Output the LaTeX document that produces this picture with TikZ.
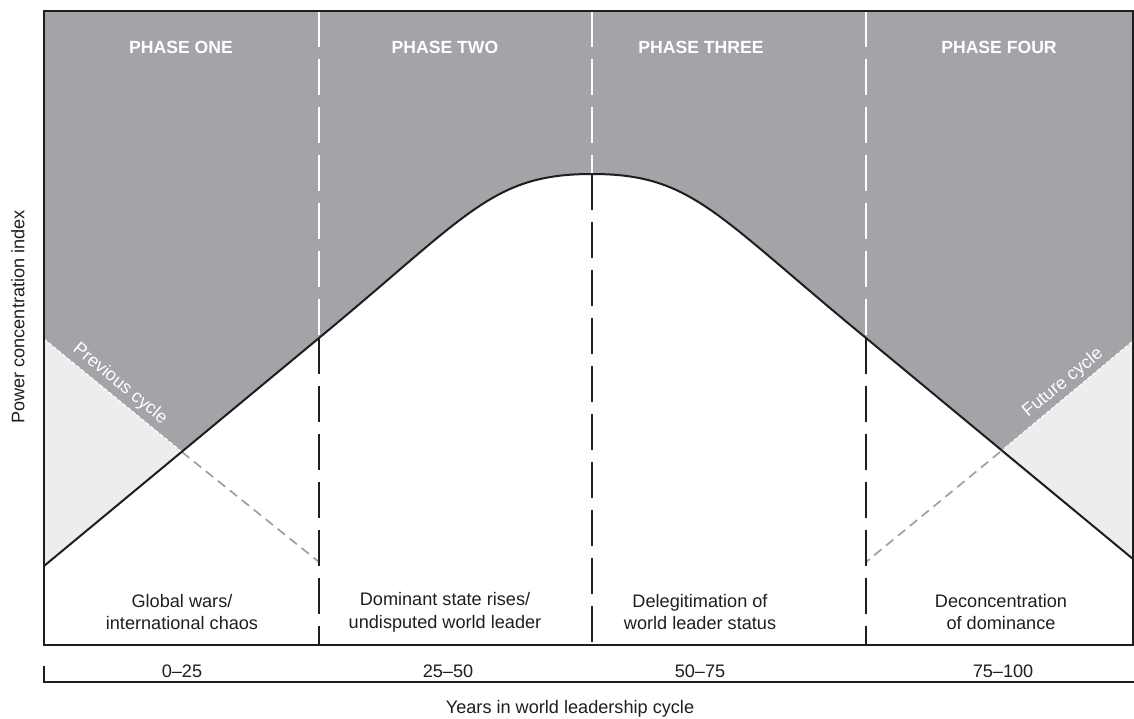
\documentclass[tikz,border=0pt]{standalone}
\usepackage{fontspec}
\setmainfont{Liberation Sans}
\definecolor{panelgray}{RGB}{163,164,168}
\definecolor{pale}{RGB}{237,237,237}
\definecolor{ghostgray}{RGB}{160,160,162}
\definecolor{ink}{RGB}{30,30,30}
\begin{document}
\begin{tikzpicture}[x=0.75pt,y=-0.75pt,
  every node/.style={inner sep=0pt, align=center, text=ink,
    font=\fontsize{13.6}{17.2}\selectfont},
  phase/.style={text=white, font=\bfseries\fontsize{13.2}{15}\selectfont},
  cyclelabel/.style={text=white, font=\fontsize{13.5}{15}\selectfont},
  curveline/.style={line width=1.5pt, ink},
  frameline/.style={line width=1.6pt, ink},
  whitedash/.style={white, line width=1.5pt, dash pattern=on 27pt off 9pt},
  blackdash/.style={ink, line width=1.5pt, dash pattern=on 27pt off 9pt},
  ghost/.style={ghostgray, line width=1.3pt, dash pattern=on 7pt off 4.5pt},
  cycleedge/.style={white, line width=0.8pt, dash pattern=on 3pt off 1.5pt},
]
\useasboundingbox (0,0) rectangle (1134,718);

% frame corners
\coordinate (TL) at (44,11);
\coordinate (TR) at (1133,11);
\coordinate (BL) at (44,645);
\coordinate (BR) at (1133,645);

% leadership curve
\coordinate (c0) at (44,566);
\coordinate (c1) at (319,338);
\coordinate (peak) at (592,174);
\coordinate (c3) at (866,338);
\coordinate (c4) at (1133,559);

% previous and future cycles
\coordinate (pv) at (44,339);
\coordinate (px) at (182,452);
\coordinate (pe) at (319,562);
\coordinate (fv) at (1133,341);
\coordinate (fx) at (1000,452);
\coordinate (fe) at (866,562);

% phase dividers
\coordinate (d1t) at (319,11);  \coordinate (d1b) at (319,645);
\coordinate (d2t) at (592,11);  \coordinate (d2b) at (592,645);
\coordinate (d3t) at (866,11);  \coordinate (d3b) at (866,645);

% grey area above the curve
\fill[panelgray] (TL) -- (TR) -- (c4) -- (c3)
  .. controls (715,214) and (692,174) .. (peak)
  .. controls (492,174) and (469,214) .. (c1) -- (c0) -- cycle;

% neighbouring cycles
\fill[pale] (pv) -- (px) -- (c0) -- cycle;
\fill[pale] (fv) -- (fx) -- (c4) -- cycle;
\draw[cycleedge] (pv) -- (px);
\draw[cycleedge] (fx) -- (fv);
\draw[ghost] (px) -- (pe);
\draw[ghost] (fx) -- (fe);

% dividers: white over the grey, black below the curve
\draw[whitedash] (d1t) -- (c1);
\draw[blackdash] (c1) -- (d1b);
\draw[whitedash] (d2t) -- (peak);
\draw[blackdash] (peak) -- (d2b);
\draw[whitedash] (d3t) -- (c3);
\draw[blackdash] (c3) -- (d3b);

% the curve
\draw[curveline] (c0) -- (c1)
  .. controls (469,214) and (492,174) .. (peak)
  .. controls (692,174) and (715,214) .. (c3) -- (c4);

% frame
\draw[frameline] (TR) -- (TL) -- (BL) -- (BR) -- cycle;

% time axis
\coordinate (tk) at (44,666);
\coordinate (ax0) at (44,682);
\coordinate (ax1) at (1134,682);
\draw[frameline] (tk) -- (ax0) -- (ax1);

% phase titles
\node[phase] (p1) at (181,47) {PHASE ONE};
\node[phase] (p2) at (445,47) {PHASE TWO};
\node[phase] (p3) at (701,47) {PHASE THREE};
\node[phase] (p4) at (999,47) {PHASE FOUR};

% cycle labels
\node[cyclelabel, rotate=-39.4] (prev) at (120,384) {Previous cycle};
\node[cyclelabel, rotate=39.4] (fut) at (1063,383) {Future cycle};

% phase descriptions
\node (t1) at (182,612) {Global wars/\\international chaos};
\node (t2) at (445,612) {Dominant state rises/\\undisputed world leader};
\node (t3) at (700,612) {Delegitimation of\\world leader status};
\node (t4) at (1001,612) {Deconcentration\\of dominance};

% year ranges
\node (y1) at (182,671) {0--25};
\node (y2) at (448,671) {25--50};
\node (y3) at (700,671) {50--75};
\node (y4) at (1003,671) {75--100};

% axis titles
\node (xlab) at (570,709) {Years in world leadership cycle};
\node[rotate=90] (ylab) at (18,317) {Power concentration index};
\end{tikzpicture}
\end{document}
